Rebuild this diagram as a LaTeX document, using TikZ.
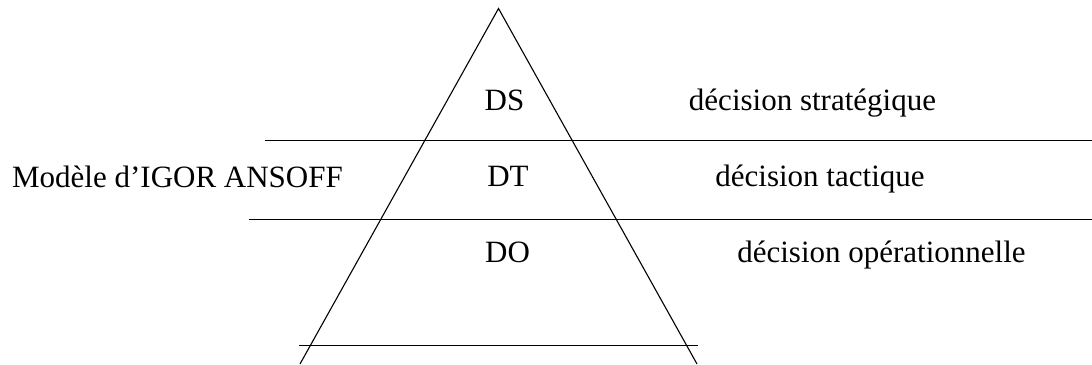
\documentclass[tikz,border=0pt]{standalone}
\usepackage{fontspec}
\setmainfont{Liberation Serif}
\begin{document}
\begin{tikzpicture}[x=0.5pt,y=-0.5pt,
  sep/.style={line width=0.75pt},
  side/.style={line width=0.55pt},
  lbl/.style={anchor=base,inner sep=0pt,font=\fontsize{15.5}{18}\selectfont}]
\useasboundingbox (0,0) rectangle (1092,364);
% triangle
\coordinate (apex) at (498.5,8.5);
\coordinate (bl) at (300,364);
\coordinate (br) at (697,364);
\draw[side] (bl) -- (apex) -- (br);
% separating lines
\coordinate (l1a) at (265,140.7);
\coordinate (l1b) at (1092,140.7);
\coordinate (l2a) at (249,219.3);
\coordinate (l2b) at (1092,219.3);
\coordinate (l3a) at (299,345.7);
\coordinate (l3b) at (698,345.7);
\draw[sep] (l1a) -- (l1b);
\draw[sep] (l2a) -- (l2b);
\draw[sep] (l3a) -- (l3b);
% labels
\node[lbl] (ds) at (504.5,110) {DS};
\node[lbl] (dt) at (508,186) {DT};
\node[lbl] (do) at (507.5,262) {DO};
\node[lbl] (dstr) at (812.5,110) {décision stratégique};
\node[lbl] (dtac) at (820,186) {décision tactique};
\node[lbl] (dop) at (881.5,262) {décision opérationnelle};
\node[lbl] (model) at (177.5,187) {Modèle d’IGOR ANSOFF};
\end{tikzpicture}
\end{document}
